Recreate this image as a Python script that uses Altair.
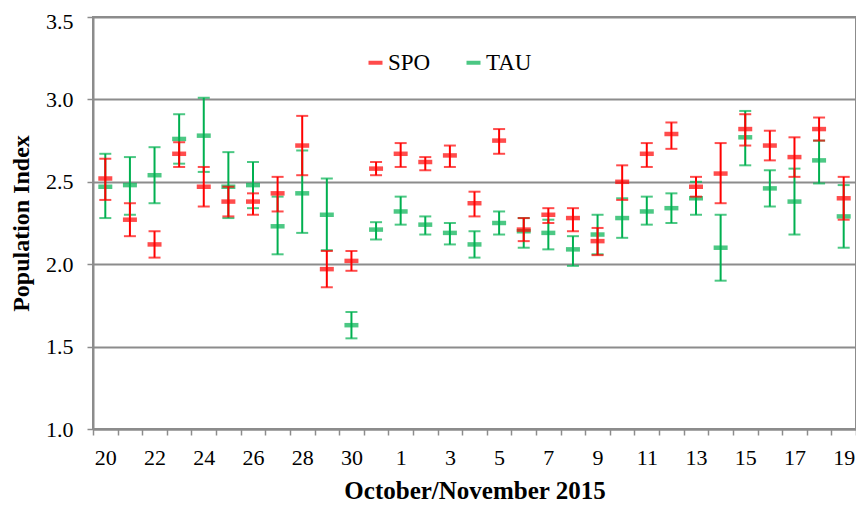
import altair as alt
import pandas as pd

days = ["20", "21", "22", "23", "24", "25", "26", "27", "28", "29", "30", "31",
        "1", "2", "3", "4", "5", "6", "7", "8", "9", "10", "11", "12", "13",
        "14", "15", "16", "17", "18", "19"]

spo_val = [2.52, 2.27, 2.12, 2.67, 2.47, 2.38, 2.38, 2.43, 2.72, 1.97, 2.02, 2.58,
           2.67, 2.62, 2.66, 2.37, 2.75, 2.21, 2.30, 2.28, 2.14, 2.50, 2.67, 2.79,
           2.47, 2.55, 2.82, 2.72, 2.65, 2.82, 2.40]
spo_lo = [2.39, 2.17, 2.04, 2.59, 2.35, 2.29, 2.30, 2.32, 2.54, 1.86, 1.96, 2.54,
          2.59, 2.57, 2.59, 2.29, 2.67, 2.14, 2.25, 2.20, 2.055, 2.39, 2.59, 2.70,
          2.41, 2.37, 2.72, 2.63, 2.53, 2.75, 2.27]
spo_hi = [2.64, 2.37, 2.20, 2.74, 2.59, 2.47, 2.43, 2.53, 2.90, 2.08, 2.08, 2.62,
          2.735, 2.65, 2.72, 2.44, 2.82, 2.28, 2.34, 2.34, 2.22, 2.60, 2.735, 2.86,
          2.53, 2.735, 2.91, 2.81, 2.77, 2.89, 2.53]

tau_val = [2.47, 2.48, 2.54, 2.76, 2.78, 2.47, 2.48, 2.23, 2.43, 2.30, 1.63, 2.21,
           2.32, 2.24, 2.19, 2.12, 2.25, 2.20, 2.19, 2.09, 2.18, 2.28, 2.32, 2.34,
           2.40, 2.10, 2.77, 2.46, 2.38, 2.63, 2.29]
tau_lo = [2.28, 2.30, 2.37, 2.61, 2.56, 2.28, 2.34, 2.06, 2.19, 2.085, 1.55, 2.15,
          2.24, 2.18, 2.12, 2.04, 2.18, 2.10, 2.09, 1.99, 2.06, 2.16, 2.24, 2.25,
          2.30, 1.90, 2.60, 2.35, 2.18, 2.49, 2.10]
tau_hi = [2.67, 2.65, 2.71, 2.91, 3.01, 2.68, 2.62, 2.41, 2.69, 2.52, 1.71, 2.255,
          2.41, 2.29, 2.25, 2.20, 2.32, 2.28, 2.27, 2.17, 2.30, 2.40, 2.41, 2.43,
          2.50, 2.30, 2.93, 2.57, 2.58, 2.75, 2.48]

series_names = ["SPO", "TAU"]
series_colors = ["#ff0000", "#00b050"]
y_ticks = [1.0, 1.5, 2.0, 2.5, 3.0, 3.5]


def make_df(name, val, lo, hi):
    return pd.DataFrame({
        "idx": list(range(len(days))),
        "day": days,
        "series": name,
        "value": val,
        "lo": lo,
        "hi": hi,
    })


df_spo = make_df("SPO", spo_val, spo_lo, spo_hi)
df_tau = make_df("TAU", tau_val, tau_lo, tau_hi)

W = 763
H = 412
n = len(days)
FONT = "'Liberation Serif', 'Times New Roman', Times, 'DejaVu Serif', serif"
GRAY = "#8c8c8c"

label_arr = "[" + ",".join("'%s'" % d for d in days) + "]"
label_expr = ("(datum.value < %d && (datum.value + 0.5) %% 2 == 0) ? %s[datum.value + 0.5] : ''"
              % (n - 1, label_arr))

x_enc = alt.X(
    "idx:Q",
    scale=alt.Scale(domain=[-0.5, n - 0.5], nice=False, zero=False),
    axis=alt.Axis(
        values=[k - 0.5 for k in range(n + 1)],
        labelExpr=label_expr,
        labelOffset=W / n / 2,
        labelOverlap=False,
        labelFlush=False,
        grid=False,
        title="October/November 2015",
        labelFont=FONT,
        titleFont=FONT,
        labelFontSize=22,
        labelPadding=12,
        titleFontSize=25,
        titleFontWeight="bold",
        titlePadding=10,
        tickSize=6,
        tickColor=GRAY,
        tickWidth=1.5,
        domainColor=GRAY,
        domainWidth=2,
        labelColor="black",
        titleColor="black",
    ),
)

color_enc = alt.Color(
    "series:N",
    scale=alt.Scale(domain=series_names, range=series_colors),
    legend=alt.Legend(
        title=None,
        orient="none",
        direction="horizontal",
        legendX=271,
        legendY=34,
        symbolType="stroke",
        symbolStrokeWidth=4,
        symbolSize=196,
        labelFontSize=23,
        labelFont=FONT,
        labelColor="black",
        labelOffset=1,
        columnPadding=27,
        padding=0,
    ),
)


def err_layers(df):
    base = alt.Chart(df)
    rule = base.mark_rule(strokeWidth=2).encode(
        x=x_enc,
        y=alt.Y("lo:Q"),
        y2="hi:Q",
        color=color_enc,
    )
    cap_lo = base.mark_tick(orient="horizontal", size=12, thickness=2).encode(
        x=x_enc, y=alt.Y("lo:Q"), color=color_enc
    )
    cap_hi = base.mark_tick(orient="horizontal", size=12, thickness=2).encode(
        x=x_enc, y=alt.Y("hi:Q"), color=color_enc
    )
    center = base.mark_tick(orient="horizontal", size=14, thickness=4.5).encode(
        x=x_enc, y=alt.Y("value:Q"), color=color_enc
    )
    return [rule, cap_lo, cap_hi, center]


y_axis_layer = alt.Chart(df_tau).mark_point(opacity=0).encode(
    x=x_enc,
    y=alt.Y(
        "value:Q",
        scale=alt.Scale(domain=[1.0, 3.5], nice=False, zero=False),
        axis=alt.Axis(
            values=y_ticks,
            format=".1f",
            title="Population Index",
            grid=True,
            gridColor=GRAY,
            gridWidth=2,
            gridOpacity=1,
            domainColor=GRAY,
            domainWidth=2,
            tickColor=GRAY,
            tickWidth=1.5,
            tickSize=6,
            labelFont=FONT,
            titleFont=FONT,
            labelFontSize=22,
            labelPadding=14,
            labelOffset={"condition": {"test": "datum.value >= 3.5", "value": 4}, "value": 0},
            titleFontSize=24,
            titleFontWeight="bold",
            titlePadding=12,
            labelColor="black",
            titleColor="black",
        ),
    ),
)

chart = alt.layer(y_axis_layer, *err_layers(df_tau), *err_layers(df_spo)).properties(
    width=W,
    height=H,
    autosize=alt.AutoSizeParams(type="none"),
    padding={"left": 85, "top": 9, "right": 0, "bottom": 74},
    background="white",
).configure(
    font=FONT,
).configure_view(
    stroke=GRAY,
    strokeWidth=2,
)

chart.save("out.html", embed_options={"renderer": "svg", "actions": False})
